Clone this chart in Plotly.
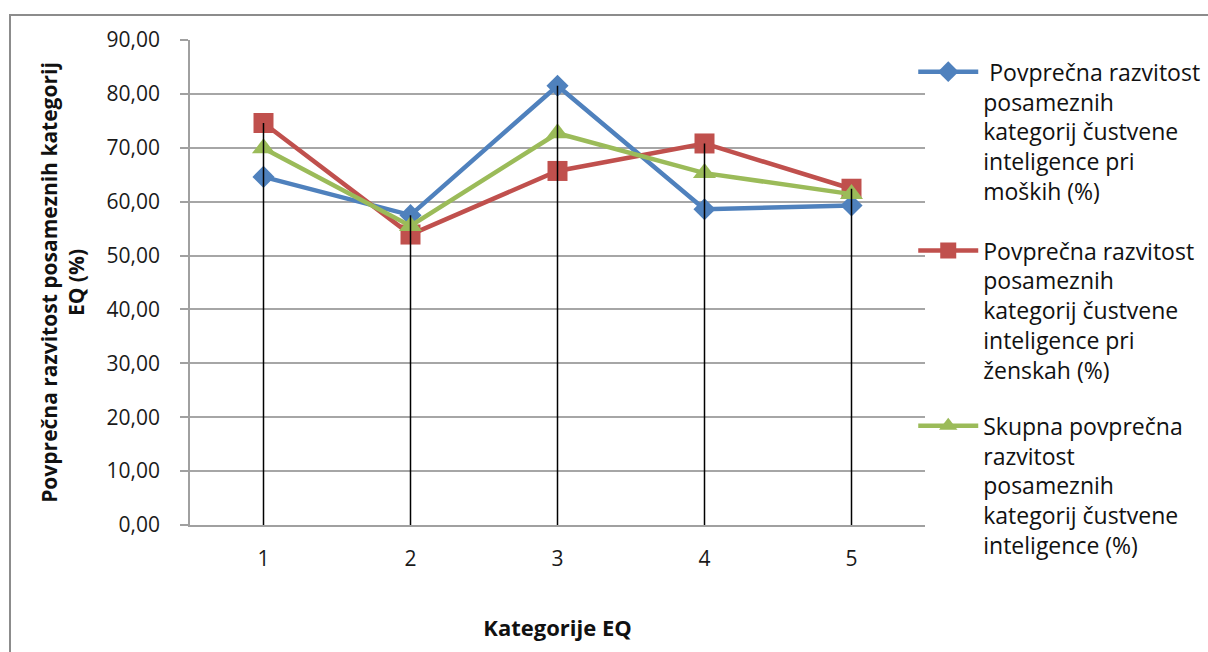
import plotly.graph_objects as go

categories = [1, 2, 3, 4, 5]
men = [64.6, 57.5, 81.5, 58.6, 59.3]
women = [74.6, 53.9, 65.7, 70.8, 62.4]
total = [69.9, 55.5, 72.7, 65.3, 61.4]
y_ticks = [0, 10, 20, 30, 40, 50, 60, 70, 80, 90]
y_tick_labels = ["0,00", "10,00", "20,00", "30,00", "40,00", "50,00",
                 "60,00", "70,00", "80,00", "90,00"]
names = [
    "\u00a0Povprečna razvitost<br>posameznih<br>kategorij čustvene<br>inteligence pri<br>moških (%)",
    "Povprečna razvitost<br>posameznih<br>kategorij čustvene<br>inteligence pri<br>ženskah (%)",
    "Skupna povprečna<br>razvitost<br>posameznih<br>kategorij čustvene<br>inteligence (%)",
]
colors = ["#4F81BD", "#C0504D", "#9BBB59"]
symbols = ["diamond", "square", "triangle-up"]
sizes = [17, 20, 20]
legend_ids = ["legend", "legend2", "legend3"]
legend_tops = [0.979, 0.610, 0.249]

fig = go.Figure()
for vals, nm, col, sym, sz, lg in zip([men, women, total], names, colors, symbols, sizes, legend_ids):
    fig.add_trace(go.Scatter(
        x=categories, y=vals, name=nm, mode="lines+markers",
        line=dict(color=col, width=4.5),
        marker=dict(symbol=sym, size=sz, color=col),
        legend=lg,
    ))

# drop lines from highest point to the axis
dx, dy = [], []
for i, c in enumerate(categories):
    top = max(men[i], women[i], total[i])
    dx += [c, c, None]
    dy += [top, 0, None]
fig.add_trace(go.Scatter(x=dx, y=dy, mode="lines", line=dict(color="black", width=1.5),
                         showlegend=False, hoverinfo="skip"))

legend_common = dict(
    x=0.984, xanchor="left", yanchor="top",
    font=dict(family="Open Sans", size=23, color="#111"),
    valign="top", bgcolor="rgba(0,0,0,0)", itemwidth=60,
)

fig.update_layout(
    width=1208, height=652,
    margin=dict(l=190, r=283, t=40, b=127, autoexpand=False),
    paper_bgcolor="white", plot_bgcolor="white",
    font=dict(family="Open Sans", color="#1a1a1a"),
    showlegend=True,
    legend=dict(y=legend_tops[0], **legend_common),
    legend2=dict(y=legend_tops[1], **legend_common),
    legend3=dict(y=legend_tops[2], **legend_common),
    xaxis=dict(
        range=[0.5, 5.5], tickvals=categories, ticktext=[str(c) for c in categories],
        showgrid=False, zeroline=False, showline=True, linecolor="#a0a0a0", linewidth=1.5,
        ticks="", tickfont=dict(size=21, color="#1a1a1a"), ticklabelstandoff=14,
        title=dict(text="<b>Kategorije EQ</b>", font=dict(family="Open Sans", size=22, color="#111"),
                   standoff=50),
    ),
    yaxis=dict(
        range=[0, 90], tickvals=y_ticks, ticktext=y_tick_labels,
        showgrid=True, gridcolor="#a6a6a6", gridwidth=1.5, zeroline=False,
        showline=True, linecolor="#a0a0a0", linewidth=1.5,
        ticks="outside", ticklen=8, tickcolor="#a0a0a0", tickwidth=1.5,
        tickfont=dict(size=21, color="#1a1a1a"), ticklabelstandoff=16,
        title=dict(text="<b>Povprečna razvitost posameznih kategorij<br>EQ (%)</b>",
                   font=dict(family="Open Sans", size=21, color="#111"), standoff=16),
    ),
    shapes=[dict(type="rect", xref="paper", yref="paper",
                 x0=-0.2449, x1=1.45, y0=-0.35, y1=1.0515,
                 line=dict(color="#8c8c8c", width=2), fillcolor="rgba(0,0,0,0)", layer="below")],
)

fig.write_html("out.html", config={"displayModeBar": False})
with open("out.html", "r", encoding="utf-8") as f:
    html = f.read()
html = html.replace("<head>", "<head><style>html,body{margin:0;padding:0;overflow:hidden}</style>", 1)
with open("out.html", "w", encoding="utf-8") as f:
    f.write(html)
